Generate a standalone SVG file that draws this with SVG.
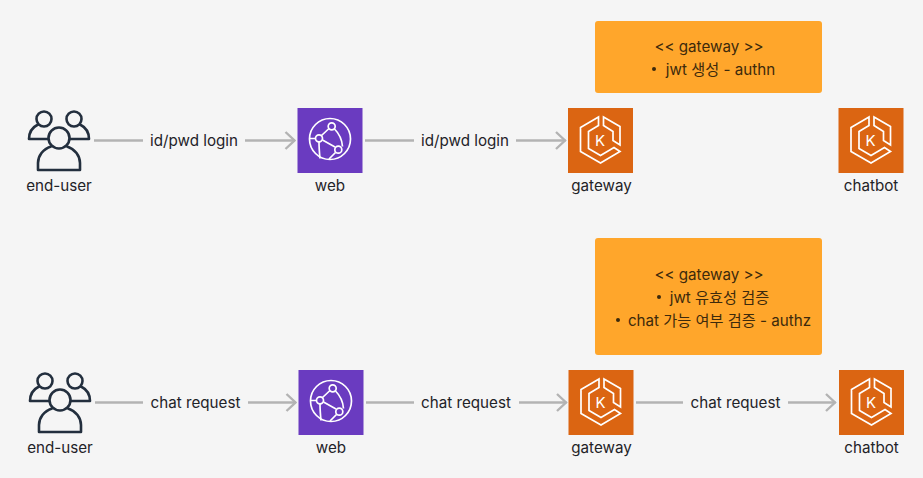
<svg xmlns="http://www.w3.org/2000/svg" width="923" height="478" viewBox="0 0 923 478">
<style>
text{font-family:Inter,"Noto Sans CJK KR",sans-serif;font-size:15.2px;fill:#1f2328;text-anchor:middle}
.n{fill:#3d2a0c}
.c{fill:none;stroke:#b3b3b3;stroke-width:2.4}
.u{fill:none;stroke:#232f3e;stroke-width:2.6;stroke-linejoin:round;stroke-linecap:round}
.i{fill:none;stroke:#fff;stroke-width:1.7;stroke-linejoin:miter}
.lb{fill:#f5f5f5}
</style>
<defs>
<marker id="a" viewBox="0 0 12 20" markerWidth="12" markerHeight="20" refX="11" refY="10" orient="auto" markerUnits="userSpaceOnUse"><path d="M1.500 1.500L10.500 10L1.500 18.500" fill="none" stroke="#b3b3b3" stroke-width="2.400"/></marker>
<g id="people">
<circle class="u" cx="-15" cy="-21" r="7.500"/><circle class="u" cx="15" cy="-21" r="7.500"/>
<path class="u" d="M-21-15.500C-26-13-30-8-30-1H-11M21-15.500C26-13 30-8 30-1H11"/>
<circle class="u" cx="0" cy="-2" r="10.500"/>
<path class="u" d="M-8 6.500C-16 9-21 16-21 23V30H21V23C21 16 16 9 8 6.500"/>
</g>
<g id="cf"><rect x="-32.500" y="-32.500" width="65" height="65" fill="#6a3bc0"/>
<circle class="i" cx="0" cy="-1.500" r="20.500"/>
<path class="i" d="M-20.500-2H-14.500M-8.500-5L-1-12M-7.500-.5L5 6.500M-11 1.500C-11 7-10.500 13-10 18M4.500-11.500C9-7 12-1 12.500 6M5.500 12L-1 18.500"/>
<circle class="i" cx="-11" cy="-2.200" r="3.500"/><circle class="i" cx="1.700" cy="-14.200" r="3.500"/><circle class="i" cx="8.300" cy="9.200" r="3.500"/></g>
<g id="k8s"><rect x="-32.500" y="-32.500" width="65" height="65" fill="#db6512"/>
<path class="i" d="M-2-23.500L-20-13V11L0 22.500 19.500 11 13.500 7 0 15-12 8V-9L-2-15ZM3-23.500L19.500-14V4.500L12.500 0V-9L3-15Z"/>
<text x="-0.500" y="5.500" style="fill:#fff;font-size:15px;font-weight:400">K</text></g>
</defs>
<rect width="923" height="478" fill="#f5f5f5"/>
<g id="connectors">
<path class="c" d="M94 140.500H295" marker-end="url(#a)"/>
<path class="c" d="M365 140.500H565.500" marker-end="url(#a)"/>
<path class="c" d="M95 402.500H296" marker-end="url(#a)"/>
<path class="c" d="M366 402.500H566.500" marker-end="url(#a)"/>
<path class="c" d="M636 402.500H835.500" marker-end="url(#a)"/>
<g>
<rect class="lb" x="143" y="130" width="102" height="22"/><text x="194" y="146">id/pwd login</text>
<rect class="lb" x="414" y="130" width="102" height="22"/><text x="465" y="146">id/pwd login</text>
<rect class="lb" x="143" y="392" width="105" height="22"/><text x="195.500" y="408">chat request</text>
<rect class="lb" x="414" y="392" width="105" height="22"/><text x="466" y="408">chat request</text>
<rect class="lb" x="683" y="392" width="105" height="22"/><text x="735.500" y="408">chat request</text>
</g>
</g>
<g id="note-authn"><rect x="595" y="21" width="227" height="72" rx="3" fill="#ffa62b"/>
<text class="n" x="709" y="52">&lt;&lt; gateway &gt;&gt;</text>
<circle class="n" cx="654" cy="69" r="2"/><text class="n" x="720.500" y="75">jwt 생성 - authn</text></g>
<g id="note-authz"><rect x="595" y="238" width="227" height="117" rx="3" fill="#ffa62b"/>
<text class="n" x="709" y="279.500">&lt;&lt; gateway &gt;&gt;</text>
<circle class="n" cx="659" cy="297" r="2"/><text class="n" x="719.500" y="302.500">jwt 유효성 검증</text>
<circle class="n" cx="618" cy="320" r="2"/><text class="n" x="719.500" y="325.500">chat 가능 여부 검증 - authz</text></g>
<g id="end-user-1"><use href="#people" x="59" y="140"/><text x="59" y="191">end-user</text></g>
<g id="web-1"><use href="#cf" x="330" y="140.500"/><text x="330" y="191">web</text></g>
<g id="gateway-1"><use href="#k8s" x="600.500" y="140.500"/><text x="601.500" y="191">gateway</text></g>
<g id="chatbot-1"><use href="#k8s" x="871" y="140.500"/><text x="871" y="191">chatbot</text></g>
<g id="end-user-2"><use href="#people" x="60" y="402"/><text x="60" y="453">end-user</text></g>
<g id="web-2"><use href="#cf" x="331" y="402.500"/><text x="331" y="453">web</text></g>
<g id="gateway-2"><use href="#k8s" x="601" y="402.500"/><text x="601.500" y="453">gateway</text></g>
<g id="chatbot-2"><use href="#k8s" x="871.500" y="402.500"/><text x="871.500" y="453">chatbot</text></g>
</svg>
